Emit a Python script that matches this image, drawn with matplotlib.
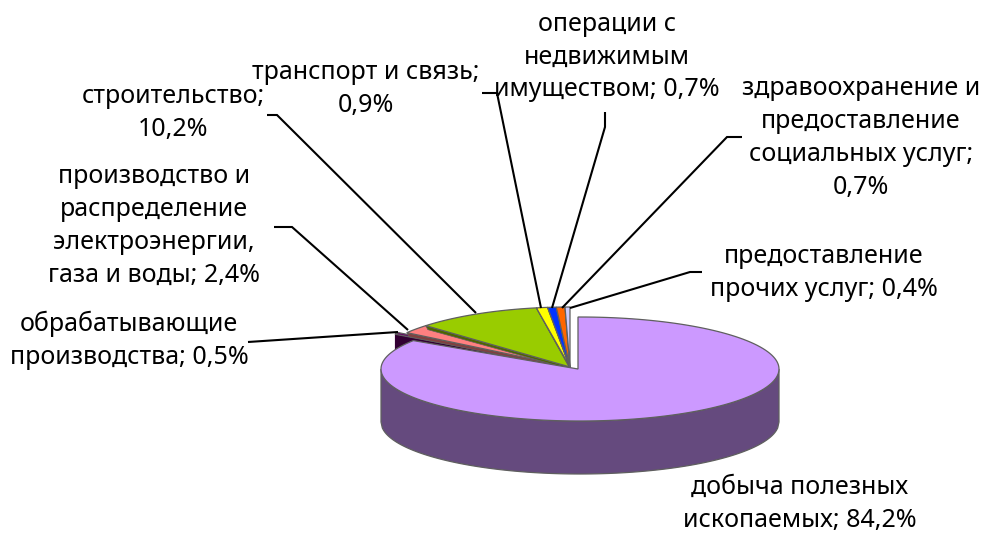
import numpy as np
import matplotlib
matplotlib.use("Agg")
import matplotlib.pyplot as plt
from matplotlib.patches import Polygon

names = ["добыча полезных\nископаемых; 84,2%",
         "обрабатывающие\nпроизводства; 0,5%",
         "производство и\nраспределение\nэлектроэнергии,\nгаза и воды; 2,4%",
         "строительство;\n10,2%",
         "транспорт и связь;\n0,9%",
         "операции с\nнедвижимым\nимуществом; 0,7%",
         "здравоохранение и\nпредоставление\nсоциальных услуг;\n0,7%",
         "предоставление\nпрочих услуг; 0,4%"]
values = [84.2, 0.5, 2.4, 10.2, 0.9, 0.7, 0.7, 0.4]
top_colors = ["#CC99FF", "#660066", "#FF8080", "#99CC00", "#FFFF00", "#0033FF", "#FF6600", "#CCCCFF"]
side_colors = ["#654A7E", "#330033", "#804040", "#4D6600", "#808000", "#001A80", "#803300", "#666680"]
label_xy = [(800, 504), (129, 340), (154, 226), (173, 113), (366, 89), (607, 57), (861, 138), (824, 273)]
leaders = [None,
           [(248, 342), (398, 332)],
           [(274, 227), (292, 227), (408, 330)],
           [(267, 115), (277, 115), (476, 313)],
           [(482, 93), (497, 93), (541, 308)],
           [(605, 112), (605, 127), (552, 308)],
           [(742, 137), (727, 137), (562, 308)],
           [(702, 272), (690, 272), (570, 308)]]

plt.rcParams["font.family"] = ["Noto Sans", "DejaVu Sans"]
fig = plt.figure(figsize=(9.81, 5.35), dpi=100)
ax = fig.add_axes([0, 0, 1, 1])
ax.set_xlim(0, 981)
ax.set_ylim(535, 0)
ax.axis("off")

cx_main, cy_main, rx_main, ry_main = 580, 369, 199, 52
cx_rest, cy_rest, rx_rest, ry_rest = 570, 367, 199, 60
notch_x = 578
depth = 53
edge = "#5f5f5f"

ends = np.cumsum(values) / np.sum(values) * 2 * np.pi
starts = np.concatenate([[0], ends[:-1]])


def rim(a0, a1, cx, cy, rx, ry):
    t = np.linspace(a0, a1, 160)
    return cx + rx * np.sin(t), cy - ry * np.cos(t)


# the small exploded slices, drawn behind the main slice
for i in range(1, len(values)):
    rx = rx_rest + 10 if i == 1 else rx_rest
    x, y = rim(starts[i], ends[i], cx_rest, cy_rest, rx, ry_rest)
    z = 3 + 0.1 * i
    if i == 1:
        wall = np.r_[np.c_[x, y], np.c_[x, y + depth][::-1]]
        ax.add_patch(Polygon(wall, closed=True, fc=side_colors[i], ec="none", zorder=z))
        cut = [(cx_rest, cy_rest), (x[0], y[0]), (x[0], y[0] + depth), (cx_rest, cy_rest + depth)]
        ax.add_patch(Polygon(cut, closed=True, fc=side_colors[i], ec="none", zorder=z))
    else:
        band = [(cx_rest, cy_rest), (x[0], y[0]), (x[0] + 2, y[0] + 4), (cx_rest, cy_rest + 2)]
        ax.add_patch(Polygon(band, closed=True, fc=side_colors[i], ec=edge, lw=0.5, zorder=z))
    pts = np.r_[[[cx_rest, cy_rest]], np.c_[x, y]]
    ax.add_patch(Polygon(pts, closed=True, fc=top_colors[i], ec=edge, lw=0.9, zorder=z + 0.05))

# main slice wall and top
x, y = rim(starts[0], ends[0], cx_main, cy_main, rx_main, ry_main)
xw = np.linspace(cx_main - rx_main, cx_main + rx_main, 300)
yw = cy_main + ry_main * np.sqrt(np.clip(1 - ((xw - cx_main) / rx_main) ** 2, 0, 1))
wall = np.r_[np.c_[xw, yw], np.c_[xw, yw + depth][::-1]]
ax.add_patch(Polygon(wall, closed=True, fc=side_colors[0], ec=edge, lw=0.9, zorder=5))
pts = np.r_[[[notch_x, cy_main], [notch_x, y[0]]], np.c_[x, y]]
ax.add_patch(Polygon(pts, closed=True, fc=top_colors[0], ec=edge, lw=0.9, zorder=6))

for seg in leaders:
    if seg:
        ax.plot(*zip(*seg), color="black", lw=1.5, zorder=7, solid_capstyle="butt", solid_joinstyle="miter")

for name, (lx, ly) in zip(names, label_xy):
    ax.text(lx, ly, name, ha="center", va="center", fontsize=18, color="black",
            linespacing=1.42, zorder=8)

fig.savefig("out.png", dpi=100)
